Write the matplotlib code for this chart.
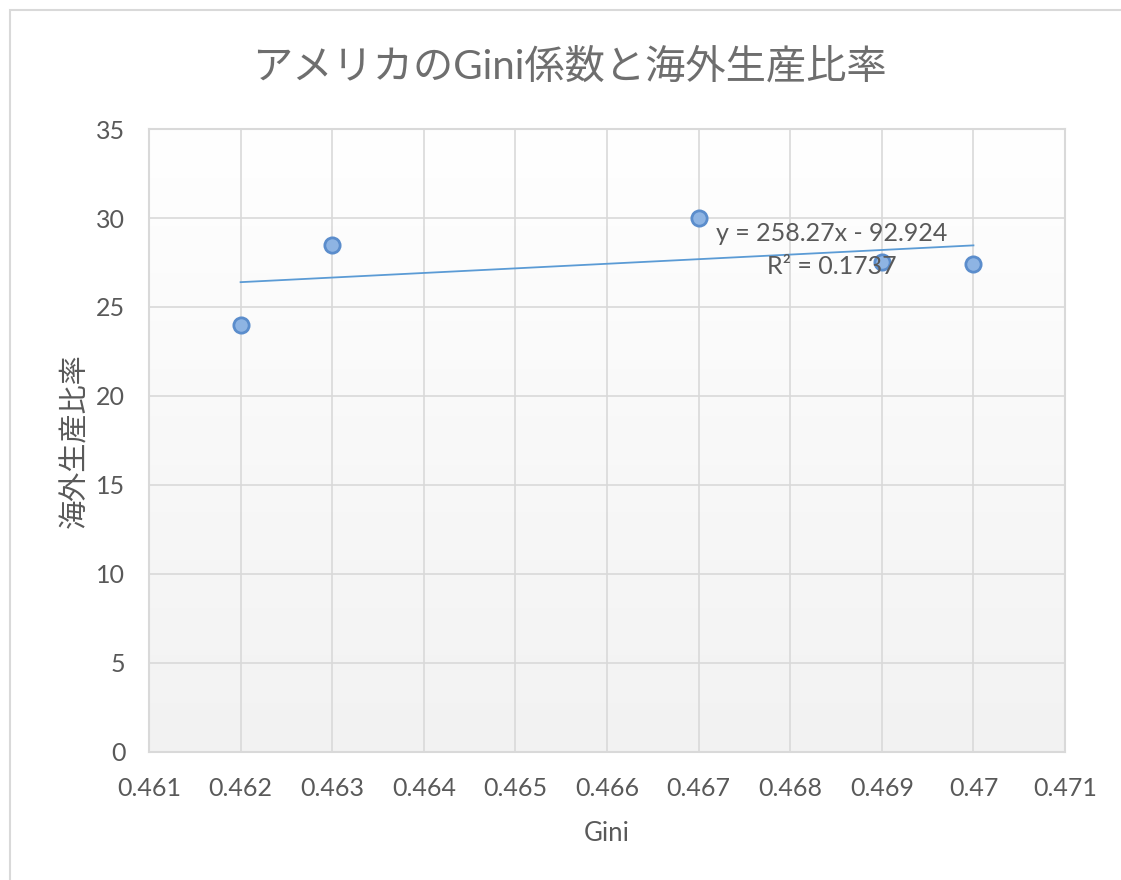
import numpy as np
import matplotlib.pyplot as plt
from matplotlib.patches import Rectangle
from matplotlib.colors import LinearSegmentedColormap

plt.rcParams['font.family'] = ['Lato', 'Noto Sans CJK JP', 'DejaVu Sans']

# Gini coefficient vs. overseas production ratio (USA)
gini = [0.462, 0.463, 0.467, 0.469, 0.470]
overseas_ratio = [24.0, 28.5, 30.0, 27.5, 27.4]

title = "アメリカのGini係数と海外生産比率"
xlabel = "Gini"
ylabel = "海外生産比率"

TEXT = "#595959"
GRID = "#d9d9d9"


def main():
    fig = plt.figure(figsize=(11.21, 8.8), dpi=100)
    ax = fig.add_axes([0.1329, 0.1455, 0.8172, 0.7079])

    # chart frame (top and left edge visible)
    fig.patches.append(Rectangle((10 / 1121, -0.1), 1.2, 1 - 10 / 880 + 0.1,
                                 transform=fig.transFigure, fill=False,
                                 edgecolor="#d9d9d9", linewidth=1.5, zorder=0))

    # soft vertical gradient in the plot area
    grad = np.linspace(0, 1, 256).reshape(-1, 1)
    ax.imshow(grad, extent=[0, 1, 0, 1], transform=ax.transAxes, aspect="auto",
              cmap=LinearSegmentedColormap.from_list("bg", ["#f2f2f2", "#ffffff"]),
              origin="lower", zorder=0)

    x = np.array(gini)
    y = np.array(overseas_ratio)
    slope, intercept = np.polyfit(x, y, 1)
    r2 = np.corrcoef(x, y)[0, 1] ** 2

    ax.plot([x.min(), x.max()], slope * np.array([x.min(), x.max()]) + intercept,
            color="#5b9bd5", linewidth=1.3, zorder=3)
    ax.plot(x, y, linestyle="none", marker="o", markersize=11,
            markerfacecolor="#8eb4e3", markeredgecolor="#5b8dcc",
            markeredgewidth=2, zorder=4)

    sign = "-" if intercept < 0 else "+"
    ax.text(0.46845, 29.15, "y = {:.2f}x {} {:.3f}".format(slope, sign, abs(intercept)),
            ha="center", va="center", fontsize=18, color=TEXT, zorder=5)
    ax.text(0.46845, 27.3, "R² = {:.4f}".format(r2),
            ha="center", va="center", fontsize=18, color=TEXT, zorder=5)

    ax.set_xlim(0.461, 0.471)
    ax.set_ylim(0, 35)
    ax.set_xticks(np.arange(0.461, 0.4715, 0.001))
    ax.set_xticklabels(["0.461", "0.462", "0.463", "0.464", "0.465", "0.466",
                        "0.467", "0.468", "0.469", "0.47", "0.471"])
    ax.set_yticks(range(0, 36, 5))

    ax.grid(True, color=GRID, linewidth=1.2, zorder=1)
    ax.set_axisbelow(True)
    for s in ax.spines.values():
        s.set_color(GRID)
        s.set_linewidth(1.5)
    ax.tick_params(length=0, labelsize=18, colors=TEXT)
    ax.tick_params(axis="x", pad=18)
    ax.tick_params(axis="y", pad=17)

    ax.set_xlabel(xlabel, fontsize=18.5, color=TEXT, labelpad=15)
    ax.set_ylabel(ylabel, fontsize=21, color=TEXT, labelpad=6)
    fig.text(0.508, 1 - 67 / 880, title, ha="center", va="center",
             fontsize=29, color="#6e6e6e")

    fig.savefig("out.png", dpi=100, facecolor="white")


if __name__ == "__main__":
    main()
